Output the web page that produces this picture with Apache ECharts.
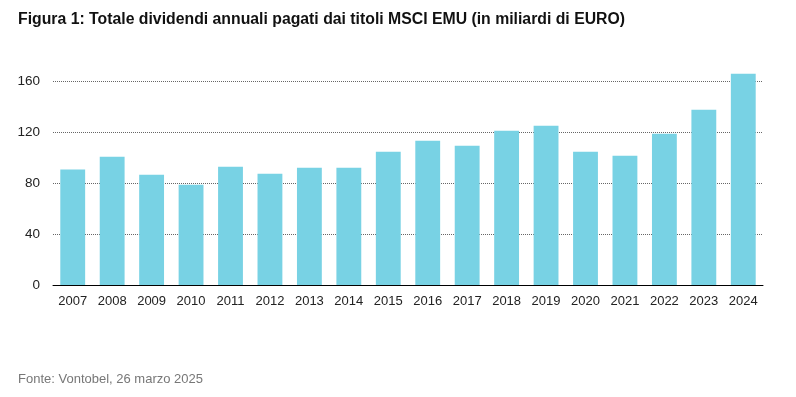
<!DOCTYPE html>
<html>
<head>
<meta charset="utf-8">
<script src="https://cdn.jsdelivr.net/npm/echarts@6/dist/echarts.min.js"></script>
<style>
  html, body { margin: 0; padding: 0; background: #fff; }
  #chart { width: 796px; height: 397px; }
</style>
</head>
<body>
<div id="chart"></div>
<script>
// anni e dividendi (miliardi di EUR)
const years = ['2007', '2008', '2009', '2010', '2011', '2012', '2013', '2014', '2015',
    '2016', '2017', '2018', '2019', '2020', '2021', '2022', '2023', '2024'];
const dividends = [90.5, 100.6, 86.5, 78.7, 92.8, 87.3, 92, 92, 104.5,
    113.2, 109.3, 121, 125, 104.5, 101.4, 118.7, 137.5, 165.7];

const chart = echarts.init(document.getElementById('chart'));
chart.setOption({
    animation: false,
    textStyle: {fontFamily: '"Liberation Sans", Arial, sans-serif'},
    title: [
        {
            text: 'Figura 1: Totale dividendi annuali pagati dai titoli MSCI EMU (in miliardi di EURO)',
            left: 18, top: 12, padding: 0,
            textStyle: {fontSize: 15.8, fontWeight: 'bold', color: '#111'}
        },
        {
            text: 'Fonte: Vontobel, 26 marzo 2025',
            left: 18, top: 373, padding: 0,
            textStyle: {fontSize: 13, fontWeight: 'normal', color: '#777'}
        }
    ],
    grid: {left: 53, right: 33, top: 81, bottom: 112},
    xAxis: {
        type: 'category',
        data: years,
        axisLine: {lineStyle: {color: '#000', width: 1}},
        axisTick: {show: false},
        axisLabel: {color: '#222', fontSize: 13, margin: 10}
    },
    yAxis: {
        type: 'value',
        min: 0, max: 160, interval: 40,
        axisLine: {show: false},
        axisTick: {show: false},
        axisLabel: {color: '#222', fontSize: 13.5, margin: 13},
        splitLine: {lineStyle: {color: '#666', type: 'dotted', width: 1}}
    },
    series: [{
        type: 'bar',
        data: dividends,
        barWidth: '63%',
        clip: false,
        itemStyle: {color: '#78d2e4'}
    }]
});
</script>
</body>
</html>
